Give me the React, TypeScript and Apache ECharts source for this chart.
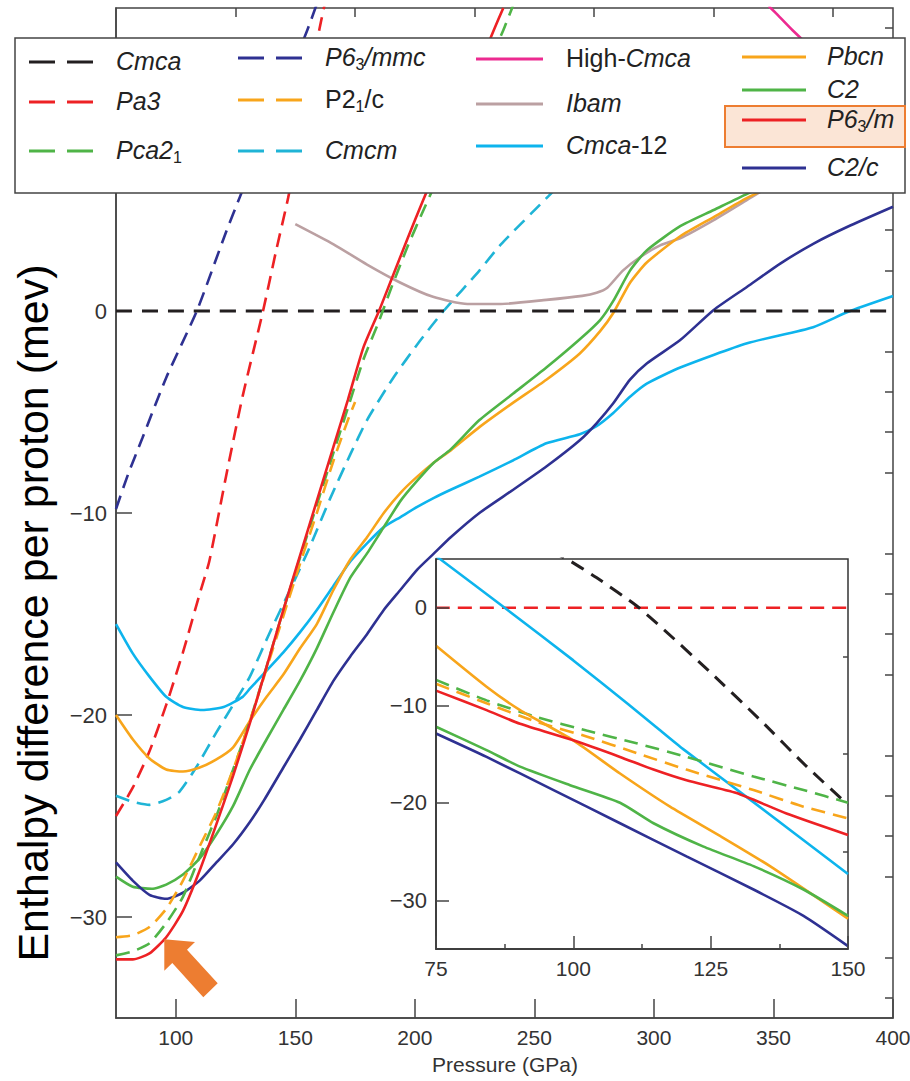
import React, { useEffect, useRef } from 'react';
import * as echarts from 'echarts';

// ---------------- data (pressure GPa, enthalpy difference mev) ----------------
const mainXTicks = [100, 150, 200, 250, 300, 350, 400];
const mainXMinor = [125, 175, 225, 275, 325, 375];
const mainYTicks = [-30, -20, -10, 0, 10];
const mainYLabels = [-30, -20, -10, 0];
const mainYMinor = [-34, -32, -28, -26, -24, -22, -18, -16, -14, -12, -8, -6, -4, -2, 2, 4, 6, 8, 12, 14];
const insetYTicks = [-30, -20, -10, 0];
const insetYMinor = [-25, -15, -5];

const mainCmca = [[75, 0], [400, 0]];
const mainPa3 = [[75, -25], [82, -23.6], [89, -21.8], [96, -19.5], [103, -16.9], [110, -14.0], [114, -12.4], [121, -8.2], [128, -4.2], [136.5, 0], [142, 3.0], [147, 5.6], [153.5, 9.6], [160, 13.9], [162.5, 15.3]];
const mainP63mmc = [[75, -9.8], [80, -8.1], [86, -6.3], [96, -3.3], [108.8, 0], [121, 3.9], [127, 5.7], [140, 9.5], [155, 13.9], [159, 15.2]];
const mainPca21 = [[75, -31.9], [82, -31.7], [89, -31.3], [96, -30.3], [103, -29.0], [110, -27.0], [117, -25.0], [124, -22.7], [131, -20.3], [138, -17.6], [145, -14.8], [152, -12.2], [159, -9.6], [166, -7.0], [172, -4.8], [178.5, -2.4], [185, -0.5], [190, 1.1], [197, 3.2], [204, 5.1], [220, 9.3], [237, 13.9], [241, 15.1]];
const mainP21c = [[75, -31.0], [82, -30.9], [89, -30.5], [96, -29.6], [103, -28.2], [110, -26.5], [117, -24.8], [124, -22.7], [131, -20.3], [138, -17.7], [145, -15.1], [152, -12.5], [159, -10.0], [166, -7.4], [172, -5.4], [175, -4.5]];
const mainCmcm = [[75, -24.0], [82, -24.3], [89, -24.45], [96, -24.2], [101.5, -23.8], [108.5, -22.6], [116.8, -20.9], [125, -19.3], [131, -18.1], [139, -16.0], [147.8, -13.8], [156, -11.7], [164.5, -9.3], [173, -7.1], [180, -5.4], [191, -3.3], [202, -1.5], [212, 0], [227, 2.0], [236, 3.3], [256, 5.7], [275, 8.0]];
const mainHighCmca = [[348, 15.1], [351, 14.75], [358, 13.9], [375, 12.0], [400, 9.5]];
const mainIbam = [[150, 4.3], [166, 3.3], [180, 2.3], [194, 1.4], [207.6, 0.7], [222, 0.35], [236, 0.35], [255, 0.55], [270, 0.75], [276, 0.9], [280.5, 1.15], [287, 2.0], [294, 2.65], [302.6, 3.25], [311, 3.6], [325, 4.5], [339, 5.5], [360, 7.0], [380, 8.3], [400, 9.6]];
const mainCmca12 = [[75, -15.5], [82, -16.95], [89, -18.1], [96, -19.1], [103, -19.6], [111, -19.75], [120, -19.6], [128, -19.1], [131, -18.7], [138, -17.8], [145, -16.9], [152, -15.9], [159, -14.8], [166, -13.6], [173, -12.4], [180, -11.5], [187, -10.7], [194, -10.2], [201, -9.7], [208, -9.25], [215, -8.85], [227, -8.2], [241, -7.4], [255, -6.55], [269, -6.1], [276, -5.7], [283, -5.05], [290, -4.25], [297, -3.6], [311, -2.8], [339, -1.6], [366.6, -0.8], [381, -0.05], [400, 0.74]];
const mainPbcn = [[75, -20.0], [82, -21.2], [89, -22.15], [96, -22.7], [103, -22.8], [110, -22.6], [117, -22.2], [124, -21.6], [131, -20.3], [138, -19.1], [145, -18.0], [152, -16.7], [159, -15.5], [166, -13.8], [173, -12.3], [180, -11.2], [187, -10.0], [194, -9.0], [201, -8.2], [208, -7.5], [215, -6.9], [227, -5.75], [241, -4.55], [255, -3.4], [269, -2.1], [277.5, -1.0], [283, -0.1], [290, 1.4], [297, 2.4], [311, 3.7], [325, 4.65], [339, 5.6], [360, 6.8], [380, 7.9], [400, 9.0]];
const mainC2 = [[75, -28.0], [82, -28.5], [90, -28.6], [96, -28.4], [103, -27.9], [110, -27.1], [117, -25.9], [124, -24.5], [131, -22.7], [138, -21.2], [145, -19.75], [152, -18.3], [159, -16.7], [166, -14.9], [173, -13.2], [180, -12.0], [187, -10.7], [194, -9.4], [201, -8.4], [208, -7.5], [215, -6.85], [227, -5.4], [241, -4.1], [255, -2.8], [269, -1.4], [277.5, -0.45], [283, 0.5], [290, 2.0], [297, 3.0], [311, 4.2], [325, 5.0], [339, 5.8], [360, 6.9], [380, 8.0], [400, 9.1]];
const mainC2c = [[75, -27.3], [82, -28.2], [89, -28.9], [96, -29.1], [103, -28.8], [110, -28.2], [117, -27.3], [124, -26.4], [131, -25.3], [137, -24.2], [145, -22.6], [152, -21.2], [159, -19.75], [166, -18.3], [173, -17.1], [180, -16.0], [187, -14.8], [194, -13.8], [201, -12.8], [208, -12.0], [215, -11.2], [227, -10.0], [241, -8.86], [255, -7.7], [269, -6.4], [276, -5.56], [283, -4.57], [290, -3.4], [297, -2.6], [311, -1.44], [325, 0.05], [339, 1.2], [353, 2.36], [367, 3.35], [381, 4.17], [400, 5.16]];
const mainP63m = [[75, -32.1], [82, -32.1], [89, -31.8], [96, -31.0], [103, -29.7], [110, -27.7], [117, -25.4], [124, -23.0], [131, -20.4], [138, -17.6], [145, -14.8], [152, -12.1], [159, -9.4], [166, -6.7], [172, -4.4], [178.5, -1.8], [185, 0], [190, 1.5], [197, 3.6], [203.5, 5.5], [218, 9.6], [233, 13.9], [237, 15.0]];

const insetCmca = [[96, 5.8], [99.4, 4.8], [104.2, 3.1], [111.5, 0.2], [116.4, -2.2], [124.9, -6.6], [134, -11.5], [142.5, -16.3], [150, -20.2]];
const insetPa3 = [[75, 0], [150, 0]];
const insetCmca12 = [[75, 5.3], [87.5, 0], [100, -5.4], [110, -9.9], [115, -12.2], [120, -14.5], [132, -19.6], [150, -27.3]];
const insetPbcn = [[75, -3.9], [84.2, -8.1], [90.3, -10.5], [100, -13.6], [108.5, -17.0], [117.6, -20.4], [126.7, -23.4], [135.8, -26.5], [150, -31.9]];
const insetC2 = [[75, -12.2], [84.2, -14.6], [90.3, -16.3], [99.4, -18.2], [108.5, -20.0], [114.6, -22.1], [123.7, -24.5], [132.8, -26.5], [141.9, -28.9], [150, -31.6]];
const insetC2c = [[75, -12.9], [84.2, -15.3], [96.4, -18.7], [108.5, -22.1], [120.6, -25.5], [132.8, -28.9], [141.9, -31.6], [150, -34.7]];
const insetP63m = [[75, -8.5], [84.2, -10.5], [90.3, -11.9], [100, -13.6], [108.5, -15.3], [114.6, -16.6], [120.6, -17.7], [129.7, -19.0], [138.8, -21.1], [150, -23.3]];
const insetPca21 = [[75, -7.4], [84.2, -9.5], [93.3, -11.2], [102.4, -12.6], [111.5, -13.9], [120.6, -15.3], [132.8, -17.3], [141.9, -18.7], [150, -20.0]];
const insetP21c = [[75, -7.8], [84.2, -9.8], [93.3, -11.7], [102.4, -13.2], [111.5, -14.9], [120.6, -16.6], [132.8, -18.7], [141.9, -20.4], [150, -21.6]];

// ---------------- styles ----------------
const C_BLACK = '#231f20';
const C_RED = '#ed2124';
const C_GREEN = '#4fb447';
const C_NAVY = '#2e3192';
const C_ORANGE = '#f8a51b';
const C_CYAN_D = '#1fb4d6';
const C_CYAN = '#0db4ed';
const C_MAGENTA = '#ec2a90';
const C_TAUPE = '#bba0a2';
const AXIS = '#444444';
const LABEL = '#333333';
const FONT = "'Liberation Sans', Arial, sans-serif";
const DASH = [14, 8];

const fmt = (v: number) => (v < 0 ? '\u2212' + Math.abs(v) : String(v));

function mk(data: number[][], color: string, dashed: boolean, xi: number, yi: number, z: number, width = 2.6) {
  return {
    type: 'line',
    data,
    xAxisIndex: xi,
    yAxisIndex: yi,
    symbol: 'none',
    showSymbol: false,
    smooth: 0.2,
    clip: true,
    silent: true,
    z,
    lineStyle: { color, width, type: dashed ? DASH : 'solid' },
    emphasis: { disabled: true },
  };
}

function buildOption() {
  const tickStyle = { color: AXIS, width: 1.5 };
  const series: any[] = [
    mk(mainPa3, C_RED, true, 0, 0, 2),
    mk(mainP63mmc, C_NAVY, true, 0, 0, 2),
    mk(mainCmcm, C_CYAN_D, true, 0, 0, 2),
    mk(mainHighCmca, C_MAGENTA, false, 0, 0, 2),
    mk(mainIbam, C_TAUPE, false, 0, 0, 2),
    mk(mainCmca12, C_CYAN, false, 0, 0, 2),
    mk(mainPbcn, C_ORANGE, false, 0, 0, 2),
    mk(mainC2, C_GREEN, false, 0, 0, 2),
    mk(mainC2c, C_NAVY, false, 0, 0, 2),
    { ...mk(mainCmca, C_BLACK, true, 0, 0, 2, 3.2), lineStyle: { color: C_BLACK, width: 3.2, type: [16, 10] } },
    mk(mainPca21, C_GREEN, true, 0, 0, 2),
    mk(mainP21c, C_ORANGE, true, 0, 0, 2),
    mk(mainP63m, C_RED, false, 0, 0, 2),
    // inset
    mk(insetPa3, C_RED, true, 2, 2, 11),
    { ...mk(insetCmca, C_BLACK, true, 2, 2, 11, 3), lineStyle: { color: C_BLACK, width: 3, type: [14, 9] } },
    mk(insetCmca12, C_CYAN, false, 2, 2, 11),
    mk(insetPca21, C_GREEN, true, 2, 2, 11),
    mk(insetP21c, C_ORANGE, true, 2, 2, 11),
    mk(insetPbcn, C_ORANGE, false, 2, 2, 11),
    mk(insetC2, C_GREEN, false, 2, 2, 11),
    mk(insetC2c, C_NAVY, false, 2, 2, 11),
    mk(insetP63m, C_RED, false, 2, 2, 11),
  ];

  const xAxis: any[] = [
    {
      type: 'value', gridIndex: 0, min: 75, max: 400,
      axisLine: { show: true, onZero: false, lineStyle: tickStyle },
      axisTick: { show: true, inside: true, length: 19, customValues: mainXTicks, lineStyle: tickStyle },
      axisLabel: { show: true, customValues: mainXTicks, margin: 9, fontSize: 21, fontFamily: FONT, color: LABEL },
      splitLine: { show: false },
    },
    {
      type: 'value', gridIndex: 0, min: 75, max: 400,
      axisLine: { show: false, onZero: false },
      axisTick: { show: true, inside: true, length: 9, customValues: mainXMinor, lineStyle: tickStyle },
      axisLabel: { show: false },
      splitLine: { show: false },
    },
    {
      type: 'value', gridIndex: 1, min: 75, max: 150, interval: 25, z: 12,
      axisLine: { show: true, onZero: false, lineStyle: { color: '#333', width: 1.5 } },
      axisTick: { show: true, inside: true, length: 13, lineStyle: tickStyle },
      minorTick: { show: true, splitNumber: 2, length: 5, lineStyle: tickStyle },
      axisLabel: { show: true, margin: 9, fontSize: 21, fontFamily: FONT, color: LABEL },
      splitLine: { show: false },
      minorSplitLine: { show: false },
    },
  ];
  const yAxis: any[] = [
    {
      type: 'value', gridIndex: 0, min: -35, max: 15,
      axisLine: { show: true, onZero: false, lineStyle: tickStyle },
      axisTick: { show: true, inside: true, length: 16, customValues: mainYTicks, lineStyle: tickStyle },
      axisLabel: { show: true, customValues: mainYLabels, formatter: fmt, margin: 9, fontSize: 22, fontFamily: FONT, color: LABEL },
      splitLine: { show: false },
    },
    {
      type: 'value', gridIndex: 0, min: -35, max: 15,
      axisLine: { show: false, onZero: false },
      axisTick: { show: true, inside: true, length: 8, customValues: mainYMinor, lineStyle: tickStyle },
      axisLabel: { show: false },
      splitLine: { show: false },
    },
    {
      type: 'value', gridIndex: 1, min: -35, max: 5, z: 12,
      axisLine: { show: true, onZero: false, lineStyle: { color: '#333', width: 1.5 } },
      axisTick: { show: true, inside: true, length: 13, customValues: insetYTicks, lineStyle: tickStyle },
      axisLabel: { show: true, customValues: insetYTicks, formatter: fmt, margin: 9, fontSize: 22, fontFamily: FONT, color: LABEL },
      splitLine: { show: false },
    },
    {
      type: 'value', gridIndex: 1, min: -35, max: 5, z: 12,
      axisLine: { show: false, onZero: false },
      axisTick: { show: true, inside: true, length: 5, customValues: insetYMinor, lineStyle: tickStyle },
      axisLabel: { show: false },
      splitLine: { show: false },
    },
  ];

  // ---------- legend (drawn as graphic over the plot) ----------
  const richBase = (color: string) => ({
    i: { fontStyle: 'italic', fontSize: 25, fontFamily: FONT, fill: color, lineHeight: 30 },
    r: { fontStyle: 'normal', fontSize: 25, fontFamily: FONT, fill: color, lineHeight: 30 },
    s: { fontStyle: 'normal', fontSize: 16, fontFamily: FONT, fill: color, lineHeight: 10, verticalAlign: 'bottom' },
  });
  const legendItems = [
    { text: '{i|Cmca}', color: C_BLACK, dashed: true, col: 0, y: 62 },
    { text: '{i|Pa3}', color: C_RED, dashed: true, col: 0, y: 102 },
    { text: '{i|Pca2}{s|1}', color: C_GREEN, dashed: true, col: 0, y: 151 },
    { text: '{i|P6}{s|3}{i|/mmc}', color: C_NAVY, dashed: true, col: 1, y: 58 },
    { text: '{r|P2}{s|1}{r|/c}', color: C_ORANGE, dashed: true, col: 1, y: 100 },
    { text: '{i|Cmcm}', color: C_CYAN_D, dashed: true, col: 1, y: 151 },
    { text: '{r|High-}{i|Cmca}', color: C_MAGENTA, dashed: false, col: 2, y: 59 },
    { text: '{i|Ibam}', color: C_TAUPE, dashed: false, col: 2, y: 104 },
    { text: '{i|Cmca}{r|-12}', color: C_CYAN, dashed: false, col: 2, y: 146 },
    { text: '{i|Pbcn}', color: C_ORANGE, dashed: false, col: 3, y: 57 },
    { text: '{i|C2}', color: C_GREEN, dashed: false, col: 3, y: 90 },
    { text: '{i|P6}{s|3}{i|/m}', color: C_RED, dashed: false, col: 3, y: 120 },
    { text: '{i|C2/c}', color: C_NAVY, dashed: false, col: 3, y: 168 },
  ];
  const colLine = [[29, 93], [238, 302], [476, 543], [742, 806]];
  const colText = [116, 325, 566, 827];

  const graphic: any[] = [
    {
      type: 'text', x: 33, y: 613, rotation: Math.PI / 2, z: 100,
      style: { text: 'Enthalpy difference per proton (mev)', fontSize: 43, fontFamily: FONT, fill: '#000', align: 'center', verticalAlign: 'middle', textAlign: 'center', textVerticalAlign: 'middle' },
    },
    {
      type: 'text', x: 505, y: 1064, z: 100,
      style: { text: 'Pressure (GPa)', fontSize: 21, fontFamily: FONT, fill: LABEL, align: 'center', verticalAlign: 'middle', textAlign: 'center', textVerticalAlign: 'middle' },
    },
    {
      type: 'polygon', z: 50,
      shape: { points: [[164.3, 939.3], [164.3, 970.7], [172.3, 963], [203.3, 997.3], [217.7, 983.3], [187, 949.7], [195, 942]] },
      style: { fill: '#ed7d31' },
    },
    {
      type: 'rect', z: 100,
      shape: { x: 15, y: 38, width: 890, height: 155 },
      style: { fill: '#ffffff', stroke: '#444', lineWidth: 1.5 },
    },
    {
      type: 'rect', z: 101,
      shape: { x: 725, y: 106, width: 180, height: 41 },
      style: { fill: '#fbe5d6', stroke: '#ed7d31', lineWidth: 2 },
    },
  ];
  legendItems.forEach((it) => {
    const [x1, x2] = colLine[it.col];
    graphic.push({
      type: 'line', z: 102,
      shape: { x1, y1: it.y, x2, y2: it.y },
      style: { stroke: it.color, lineWidth: 3, lineDash: it.dashed ? [26, 12] : null },
    });
    graphic.push({
      type: 'text', z: 102, x: colText[it.col], y: it.y - 1,
      style: { text: it.text, rich: richBase('#222'), fontSize: 25, fontFamily: FONT, fill: '#222', align: 'left', verticalAlign: 'middle', textAlign: 'left', textVerticalAlign: 'middle' },
    });
  });

  return {
    animation: false,
    backgroundColor: '#ffffff',
    grid: [
      { left: 116, top: 8, right: 17, bottom: 63, show: true, borderColor: AXIS, borderWidth: 1.5, backgroundColor: 'transparent', containLabel: false, outerBoundsMode: 'none' },
      { left: 436, top: 559, width: 412, height: 390, show: true, borderColor: '#333', borderWidth: 1.5, backgroundColor: '#ffffff', containLabel: false, outerBoundsMode: 'none', z: 10 },
    ],
    xAxis,
    yAxis,
    series,
    graphic,
  };
}

export default function App() {
  const ref = useRef<HTMLDivElement>(null);
  useEffect(() => {
    if (!ref.current) return;
    const chart = echarts.init(ref.current, null, { renderer: 'svg', width: 910, height: 1081 });
    chart.setOption(buildOption() as any);
    return () => chart.dispose();
  }, []);
  return <div ref={ref} style={{ position: 'fixed', left: 0, top: 0, width: 910, height: 1081, background: '#fff' }} />;
}
